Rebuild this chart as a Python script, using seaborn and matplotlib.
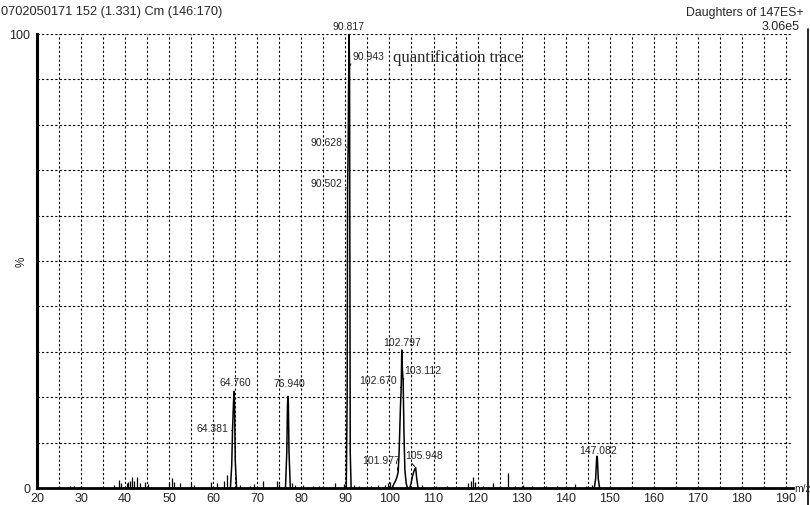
import numpy as np
import pandas as pd
import matplotlib
matplotlib.use("Agg")
import matplotlib.pyplot as plt
from matplotlib.lines import Line2D
import seaborn as sns

# profile peaks (m/z, % of base peak)
peak64_mz = [63.9, 64.2, 64.381, 64.5, 64.65, 64.760, 64.85, 65.0, 65.3]
peak64_pct = [0, 5, 12.7, 16, 20, 21.3, 18, 6, 0]
peak77_mz = [76.4, 76.7, 76.85, 76.940, 77.05, 77.2, 77.5]
peak77_pct = [0, 8, 18, 20.2, 19, 8, 0]
peak91_mz = [90.2, 90.40, 90.502, 90.55, 90.628, 90.70, 90.817, 90.88, 90.943, 91.00, 91.10, 91.3]
peak91_pct = [0, 20, 66, 70, 75, 85, 100, 97, 92.8, 60, 8, 0]
peak103_mz = [100.6, 101.0, 101.4, 101.7, 101.977, 102.2, 102.5, 102.670, 102.797,
              102.95, 103.112, 103.3, 103.5, 103.8, 104.1]
peak103_pct = [0, 0.9, 1.6, 2.4, 3.5, 8, 18, 22, 30.4, 26, 23.5, 12, 4, 1, 0]
peak106_mz = [104.6, 104.9, 105.2, 105.6, 105.948, 106.2, 106.5]
peak106_pct = [0, 1, 2.5, 3.8, 4.5, 2, 0]
peak147_mz = [146.5, 146.8, 147.0, 147.082, 147.2, 147.4, 147.7]
peak147_pct = [0, 2, 6, 7, 6.5, 2, 0]

# small baseline peaks
noise_mz = [27.6, 28.4, 30.1, 37.5, 38.7, 39.1, 40.4, 40.7, 41.2, 41.6, 42.1, 42.6, 43.4,
            44.5, 45.1, 49.9, 50.6, 51.1, 52.5, 54.9, 55.6, 59.6, 60.8, 62.4, 63.1, 66.0,
            68.3, 69.2, 71.4, 74.4, 74.9, 77.8, 78.6, 80.4, 82.7, 84.1, 87.6, 89.6, 91.9,
            93.2, 95.8, 97.4, 98.9, 99.6, 100.2, 107.3, 110.6, 113.1, 117.8, 118.4, 118.9,
            119.4, 121.2, 123.5, 126.9, 128.6, 130.3, 132.4, 135.6, 138.1, 142.1, 144.6, 145.9]
noise_pct = [0.5, 0.4, 0.5, 0.7, 1.8, 1.2, 1.0, 1.3, 1.6, 2.4, 1.5, 2.4, 1.2,
             1.3, 0.8, 1.1, 2.3, 1.4, 1.0, 1.2, 0.6, 1.3, 1.0, 1.6, 2.8, 0.6,
             0.5, 0.9, 1.5, 1.6, 0.9, 1.0, 0.6, 0.7, 0.4, 0.5, 1.0, 0.8, 0.6,
             0.5, 0.4, 0.6, 0.7, 1.2, 1.4, 0.6, 0.5, 0.4, 1.2, 1.5, 2.4,
             1.3, 0.5, 1.0, 3.3, 0.5, 0.6, 0.4, 0.5, 0.4, 0.8, 0.5, 0.6]

# labelled peaks
label_mz = [90.817, 90.943, 90.628, 90.502, 64.760, 64.381, 76.940,
            102.797, 102.670, 103.112, 101.977, 105.948, 147.082]
label_pct = [100, 92.8, 75, 66, 21.3, 12.7, 20.2, 30.4, 22, 23.5, 3.5, 4.5, 7]

title_left = "0702050171 152 (1.331) Cm (146:170)"
title_right = "Daughters of 147ES+"
scale_text = "3.06e5"

groups = [(peak64_mz, peak64_pct), (peak77_mz, peak77_pct), (peak91_mz, peak91_pct),
          (peak103_mz, peak103_pct), (peak106_mz, peak106_pct), (peak147_mz, peak147_pct)]
rows = []
for g, (m, p) in enumerate(groups):
    for a, b in zip(m, p):
        rows.append({"mz": a, "pct": b, "peak": g})
df = pd.DataFrame(rows)

sns.set_style("white")
plt.rcParams["font.family"] = ["Liberation Sans", "DejaVu Sans"]

fig = plt.figure(figsize=(8.1, 5.06), dpi=100)
ax = fig.add_axes([37 / 810, 17 / 506, (793 - 37) / 810, (489 - 35) / 506])

sns.lineplot(data=df, x="mz", y="pct", units="peak", estimator=None, sort=False,
             color="black", lw=1.1, ax=ax)
ax.vlines(noise_mz, 0, noise_pct, color="black", lw=0.9)

ax.set_xlim(20, 191.6)
ax.set_ylim(0, 100)
ax.set_xticks(np.arange(20, 191, 10))
ax.set_xticks(np.arange(20, 192, 1), minor=True)
ax.set_yticks([0, 100])
ax.set_yticks(np.arange(0, 101, 10), minor=True)
ax.tick_params(axis="x", which="major", length=3, width=1, labelsize=9, pad=0, direction="out")
ax.tick_params(axis="x", which="minor", length=2.5, width=0.8, direction="out")
ax.tick_params(axis="y", which="major", length=4, width=1, labelsize=9, pad=1, direction="out")
ax.tick_params(axis="y", which="minor", length=3, width=1, direction="inout")
ax.set_xlabel("")
ax.set_ylabel("")

# dashed grid
for x in np.arange(25, 191, 5):
    ax.axvline(x, color="black", lw=0.8, ls=(0, (2, 2)), zorder=0)
for y in np.arange(10, 101, 10):
    ax.axhline(y, color="black", lw=0.8, ls=(0, (2, 2)), zorder=0)

for s in ["top", "right"]:
    ax.spines[s].set_visible(False)
ax.spines["left"].set_linewidth(2.2)
ax.spines["bottom"].set_linewidth(2.0)
ax.spines["left"].set_color("black")
ax.spines["bottom"].set_color("black")

# peak labels: (dx, dy) offsets in points, alignment, leader start
offsets = [(0, 2, "center", "bottom", None),
           (2, 8, "left", "center", (0.0, 0.0)),
           (-4, 4, "right", "center", (1.0, 0.1)),
           (-4, 4, "right", "center", (1.0, 0.1)),
           (1, 3, "center", "bottom", None),
           (-3, 2, "right", "center", (1.0, 0.1)),
           (1, 6, "center", "bottom", None),
           (0, 2, "center", "bottom", None),
           (-3, 6, "right", "center", (1.0, 0.1)),
           (1, 8, "left", "center", (0.0, 0.0)),
           (-12, 9, "center", "center", (0.9, 0.0)),
           (6, 9, "center", "center", (0.1, 0.0)),
           (1, 1, "center", "bottom", None)]
for m, p, (dx, dy, ha, va, rel) in zip(label_mz, label_pct, offsets):
    props = None
    if rel is not None:
        props = dict(arrowstyle="-", lw=0.7, color="black", shrinkA=0, shrinkB=1, relpos=rel)
    ax.annotate(f"{m:.3f}", xy=(m, p), xytext=(dx, dy), textcoords="offset points",
                ha=ha, va=va, fontsize=7.5, arrowprops=props, annotation_clip=False)

ax.text(100.8, 95, "quantification trace", fontsize=12,
        family=["Liberation Serif", "DejaVu Serif"], va="center", ha="left")

fig.text(1 / 810, 1 - 12 / 506, title_left, fontsize=9.2, va="center", ha="left")
fig.text(804 / 810, 1 - 13 / 506, title_right, fontsize=8.8, va="center", ha="right")
fig.text(762 / 810, 1 - 27 / 506, scale_text, fontsize=9, va="center", ha="left")
fig.text(22 / 810, 1 - 262 / 506, "%", fontsize=8.5, rotation=90, va="center", ha="center")
fig.text(794 / 810, 1 - 489 / 506, "m/z", fontsize=7.5, va="center", ha="left")
fig.add_artist(Line2D([807.5 / 810, 807.5 / 810], [0, 1 - 30 / 506], color="black", lw=1.2))

fig.savefig("out.png", dpi=100)
